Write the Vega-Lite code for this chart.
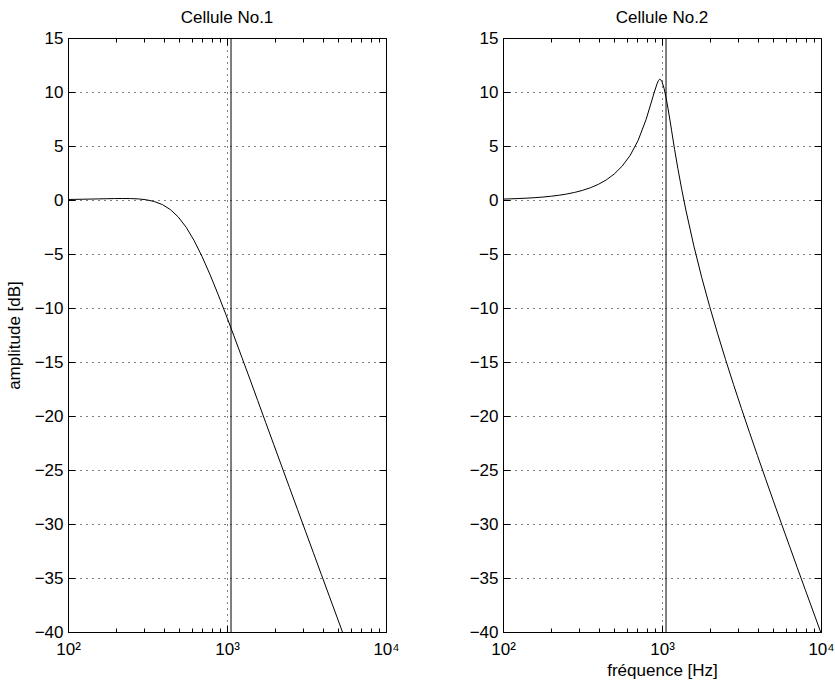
{
  "$schema": "https://vega.github.io/schema/vega-lite/v6.json",
  "background": "white",
  "padding": {"left": 4, "top": 8, "right": 5, "bottom": 5},
  "config": {
    "font": "Liberation Sans",
    "view": {"stroke": "black", "strokeWidth": 1},
    "axis": {
      "labelFont": "Liberation Sans", "labelFontSize": 17, "labelColor": "black",
      "titleFont": "Liberation Sans", "titleFontSize": 17, "titleFontWeight": "normal", "titleColor": "black",
      "domain": false, "tickColor": "black", "gridColor": "black", "gridDash": [1, 5], "gridOpacity": 1, "gridWidth": 1
    },
    "title": {"font": "Liberation Sans", "fontSize": 17, "fontWeight": "normal", "color": "black", "baseline": "alphabetic", "offset": 2, "frame": "group"}
  },
  "datasets": {
    "c1": [
      {"f": 98.5, "dB": 0.048}, {"f": 110.5, "dB": 0.059}, {"f": 124.0, "dB": 0.072}, {"f": 139.2, "dB": 0.086},
      {"f": 156.1, "dB": 0.102}, {"f": 175.1, "dB": 0.118}, {"f": 196.5, "dB": 0.132}, {"f": 220.5, "dB": 0.139},
      {"f": 247.4, "dB": 0.132}, {"f": 277.6, "dB": 0.099}, {"f": 311.5, "dB": 0.018}, {"f": 349.5, "dB": -0.142},
      {"f": 392.1, "dB": -0.424}, {"f": 440.0, "dB": -0.882}, {"f": 493.7, "dB": -1.572}, {"f": 553.9, "dB": -2.530},
      {"f": 621.5, "dB": -3.764}, {"f": 697.3, "dB": -5.242}, {"f": 782.4, "dB": -6.913}, {"f": 877.9, "dB": -8.723},
      {"f": 985.0, "dB": -10.622}, {"f": 1105, "dB": -12.578}, {"f": 1240, "dB": -14.565}, {"f": 1392, "dB": -16.569},
      {"f": 1561, "dB": -18.581}, {"f": 1751, "dB": -20.597}, {"f": 1965, "dB": -22.613}, {"f": 2205, "dB": -24.628},
      {"f": 2474, "dB": -26.641}, {"f": 2776, "dB": -28.652}, {"f": 3115, "dB": -30.662}, {"f": 3495, "dB": -32.670},
      {"f": 3921, "dB": -34.677}, {"f": 4400, "dB": -36.682}, {"f": 4937, "dB": -38.686}, {"f": 5539, "dB": -40.689}
    ],
    "c2": [
      {"f": 100, "dB": 0.085}, {"f": 112.2, "dB": 0.108}, {"f": 125.9, "dB": 0.136}, {"f": 141.3, "dB": 0.171},
      {"f": 158.5, "dB": 0.216}, {"f": 177.8, "dB": 0.273}, {"f": 199.5, "dB": 0.345}, {"f": 223.9, "dB": 0.436},
      {"f": 251.2, "dB": 0.552}, {"f": 281.8, "dB": 0.700}, {"f": 316.2, "dB": 0.890}, {"f": 354.8, "dB": 1.135},
      {"f": 398.1, "dB": 1.451}, {"f": 446.7, "dB": 1.865}, {"f": 501.2, "dB": 2.411}, {"f": 562.3, "dB": 3.141},
      {"f": 631.0, "dB": 4.137}, {"f": 707.9, "dB": 5.521}, {"f": 794.3, "dB": 7.461}, {"f": 850, "dB": 8.885},
      {"f": 891.3, "dB": 9.910}, {"f": 930, "dB": 10.75}, {"f": 950, "dB": 11.05}, {"f": 960, "dB": 11.15},
      {"f": 970, "dB": 11.2}, {"f": 980, "dB": 11.15}, {"f": 1000, "dB": 10.95}, {"f": 1030, "dB": 10.35},
      {"f": 1060, "dB": 9.5}, {"f": 1090, "dB": 8.5}, {"f": 1122, "dB": 7.4}, {"f": 1150, "dB": 6.4},
      {"f": 1200, "dB": 4.68}, {"f": 1259, "dB": 2.9}, {"f": 1330, "dB": 1.0}, {"f": 1413, "dB": -0.931},
      {"f": 1585, "dB": -4.236}, {"f": 1778, "dB": -7.177}, {"f": 1995, "dB": -9.871}, {"f": 2239, "dB": -12.390},
      {"f": 2512, "dB": -14.785}, {"f": 2818, "dB": -17.087}, {"f": 3162, "dB": -19.321}, {"f": 3548, "dB": -21.503},
      {"f": 3981, "dB": -23.645}, {"f": 4467, "dB": -25.756}, {"f": 5012, "dB": -27.844}, {"f": 5623, "dB": -29.913},
      {"f": 6310, "dB": -31.967}, {"f": 7079, "dB": -34.010}, {"f": 7943, "dB": -36.044}, {"f": 8913, "dB": -38.071},
      {"f": 10000, "dB": -40.093}
    ],
    "one": [{"cut": 1060}]
  },
  "bounds": "flush",
  "spacing": 117,
  "hconcat": [
    {
      "title": "Cellule No.1",
      "width": 318,
      "height": 594,
      "layer": [
        {
          "data": {"name": "c1"},
          "mark": {"type": "line", "color": "black", "strokeWidth": 1, "clip": true},
          "encoding": {
            "x": {"field": "f", "type": "quantitative",
              "scale": {"type": "log", "domain": [100, 10000], "nice": false},
              "axis": {"orient": "bottom", "title": null,
                "values": [100, 200, 300, 400, 500, 600, 700, 800, 900, 1000, 2000, 3000, 4000, 5000, 6000, 7000, 8000, 9000, 10000],
                "labelExpr": "datum.value == 100 ? '10²' : datum.value == 1000 ? '10³' : datum.value == 10000 ? '10⁴' : ''",
                "labelOverlap": false, "labelFlush": false, "labelPadding": 16,
                "tickSize": {"condition": {"test": "datum.value == 100 || datum.value == 1000 || datum.value == 10000", "value": -7}, "value": -4},
                "grid": true,
                "gridOpacity": {"condition": {"test": "datum.value == 1000", "value": 1}, "value": 0}}},
            "y": {"field": "dB", "type": "quantitative",
              "scale": {"domain": [-40, 15], "nice": false, "zero": false},
              "axis": {"orient": "left", "title": "amplitude [dB]",
                "values": [-40, -35, -30, -25, -20, -15, -10, -5, 0, 5, 10, 15],
                "tickSize": -7, "labelPadding": 12, "grid": true, "labelOverlap": false, "labelFlush": false,
                "titleX": -49, "titleBaseline": "alphabetic"}}
          }
        },
        {
          "data": {"name": "one"},
          "mark": {"type": "rule", "color": "black", "strokeWidth": 1},
          "encoding": {
            "x": {"field": "cut", "type": "quantitative",
              "axis": {"orient": "top", "title": null, "labels": false, "grid": false, "minExtent": 0, "maxExtent": 0,
                "values": [100, 200, 300, 400, 500, 600, 700, 800, 900, 1000, 2000, 3000, 4000, 5000, 6000, 7000, 8000, 9000, 10000],
                "tickSize": {"condition": {"test": "datum.value == 100 || datum.value == 1000 || datum.value == 10000", "value": -7}, "value": -4}}},
            "y": {"datum": -40, "type": "quantitative",
              "axis": {"orient": "right", "title": null, "labels": false, "grid": false, "minExtent": 0, "maxExtent": 0,
                "values": [-40, -35, -30, -25, -20, -15, -10, -5, 0, 5, 10, 15], "tickSize": -7}},
            "y2": {"datum": 15}
          }
        }
      ],
      "resolve": {"axis": {"x": "independent", "y": "independent"}}
    },
    {
      "title": "Cellule No.2",
      "width": 318,
      "height": 594,
      "layer": [
        {
          "data": {"name": "c2"},
          "mark": {"type": "line", "color": "black", "strokeWidth": 1, "clip": true},
          "encoding": {
            "x": {"field": "f", "type": "quantitative",
              "scale": {"type": "log", "domain": [100, 10000], "nice": false},
              "axis": {"orient": "bottom", "title": "fréquence [Hz]",
                "values": [100, 200, 300, 400, 500, 600, 700, 800, 900, 1000, 2000, 3000, 4000, 5000, 6000, 7000, 8000, 9000, 10000],
                "labelExpr": "datum.value == 100 ? '10²' : datum.value == 1000 ? '10³' : datum.value == 10000 ? '10⁴' : ''",
                "labelOverlap": false, "labelFlush": false, "labelPadding": 16,
                "tickSize": {"condition": {"test": "datum.value == 100 || datum.value == 1000 || datum.value == 10000", "value": -7}, "value": -4},
                "grid": true,
                "gridOpacity": {"condition": {"test": "datum.value == 1000", "value": 1}, "value": 0},
                "titleY": 43, "titleBaseline": "alphabetic"}},
            "y": {"field": "dB", "type": "quantitative",
              "scale": {"domain": [-40, 15], "nice": false, "zero": false},
              "axis": {"orient": "left", "title": null,
                "values": [-40, -35, -30, -25, -20, -15, -10, -5, 0, 5, 10, 15],
                "tickSize": -7, "labelPadding": 12, "grid": true, "labelOverlap": false, "labelFlush": false}}
          }
        },
        {
          "data": {"name": "one"},
          "mark": {"type": "rule", "color": "black", "strokeWidth": 1},
          "encoding": {
            "x": {"field": "cut", "type": "quantitative",
              "axis": {"orient": "top", "title": null, "labels": false, "grid": false, "minExtent": 0, "maxExtent": 0,
                "values": [100, 200, 300, 400, 500, 600, 700, 800, 900, 1000, 2000, 3000, 4000, 5000, 6000, 7000, 8000, 9000, 10000],
                "tickSize": {"condition": {"test": "datum.value == 100 || datum.value == 1000 || datum.value == 10000", "value": -7}, "value": -4}}},
            "y": {"datum": -40, "type": "quantitative",
              "axis": {"orient": "right", "title": null, "labels": false, "grid": false, "minExtent": 0, "maxExtent": 0,
                "values": [-40, -35, -30, -25, -20, -15, -10, -5, 0, 5, 10, 15], "tickSize": -7}},
            "y2": {"datum": 15}
          }
        }
      ],
      "resolve": {"axis": {"x": "independent", "y": "independent"}}
    }
  ]
}
